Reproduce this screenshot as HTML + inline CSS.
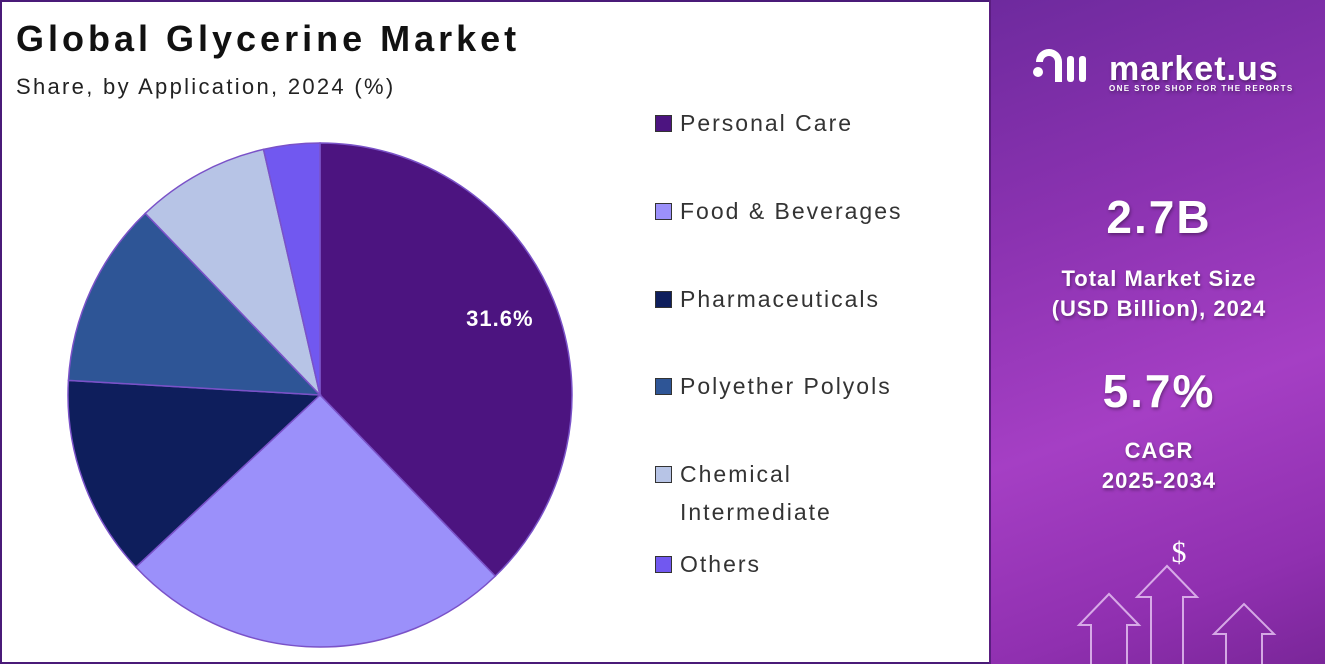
<!DOCTYPE html>
<html><head><meta charset="utf-8"><style>
*{margin:0;padding:0;box-sizing:border-box}
body{width:1325px;height:664px;overflow:hidden;background:#fff;font-family:"Liberation Sans",sans-serif;position:relative}
#frame{position:absolute;left:0;top:0;width:1325px;height:664px;border:2px solid #4a1a78;}
#panel{position:absolute;left:989px;top:0;width:336px;height:664px;background:linear-gradient(160deg,#6e2a9e 0%,#8a32b0 30%,#a53fc4 60%,#9030b0 85%,#7a2699 100%);border-left:2px solid #5a1d80}
.t{position:absolute;color:#fff;font-weight:bold;text-align:center;width:336px;left:0;text-shadow:1px 2px 3px rgba(0,0,0,.35);letter-spacing:1px}
h1{position:absolute;left:16px;top:18px;font-size:36px;font-weight:bold;color:#111;letter-spacing:4px}
#sub{position:absolute;left:16px;top:74px;font-size:22px;color:#222;letter-spacing:2.3px}
.leg{position:absolute;left:655px;font-size:23px;color:#333;line-height:38px;letter-spacing:2px}
.sw{position:absolute;left:0;top:11px;width:17px;height:17px;border:1px solid #333}
.leg span.l{margin-left:25px;display:block}
</style></head><body>
<div id="frame"></div>
<h1>Global Glycerine Market</h1>
<div id="sub">Share, by Application, 2024 (%)</div>
<svg id="pie" width="660" height="664" style="position:absolute;left:0;top:0"></svg>
<div id="legend"></div>
<div id="panel">
  <svg width="336" height="664" style="position:absolute;left:0;top:0">
    <g fill="none" stroke="#e9c9f5" stroke-width="2" opacity=".8">
      <path d="M100 664 V625 H88 L118 594 L148 625 H136 V664"/>
      <path d="M160 664 V597 H146 L176 566 L206 597 H192 V664"/>
      <path d="M235 664 V634 H223 L253 604 L283 634 H271 V664"/>
    </g>
    <text x="188" y="562" fill="#fff" font-size="30" text-anchor="middle" font-family="Liberation Serif">$</text>
    <g fill="#fff"><circle cx="47" cy="72" r="5"/><path d="M45 62 a13 13 0 0 1 26 0 v20 h-7 v-20 a6 6 0 0 0 -12 0z"/><rect x="76" y="56" width="7" height="26" rx="3"/><rect x="88" y="56" width="7" height="26" rx="3"/></g>
  </svg>
  <div class="t" style="top:50px;left:118px;width:210px;text-align:left;font-size:34px">market.us</div>
  <div class="t" style="top:84px;left:118px;width:200px;text-align:left;font-size:8px;letter-spacing:1.4px">ONE STOP SHOP FOR THE REPORTS</div>
  <div class="t" style="top:190px;font-size:46px;letter-spacing:2px">2.7B</div>
  <div class="t" style="top:264px;font-size:22px;line-height:30px">Total Market Size<br>(USD Billion), 2024</div>
  <div class="t" style="top:364px;font-size:46px;letter-spacing:2px">5.7%</div>
  <div class="t" style="top:436px;font-size:22px;line-height:30px">CAGR<br>2025-2034</div>
</div>
<script>
const categories=["Personal Care","Food & Beverages","Pharmaceuticals","Polyether Polyols","Chemical Intermediate","Others"];
const values=[37.8,25.3,12.9,11.9,8.6,3.6];
const colors=["#4c1480","#9b90fa","#0e1e5c","#2e5596","#b7c4e6","#7158f0"];
const shownLabels=["31.6%","","","","",""];
const legendTops=[104,192,280,367,455,545];
const cx=320,cy=395,r=252;
const svg=document.getElementById('pie');const NS="http://www.w3.org/2000/svg";
const total=values.reduce((a,b)=>a+b,0);
let a0=0;
function pt(a,rr){return [cx+rr*Math.sin(a),cy-rr*Math.cos(a)];}
values.forEach((v,i)=>{
  const a1=a0+v/total*2*Math.PI;
  const p0=pt(a0,r),p1=pt(a1,r);
  const p=document.createElementNS(NS,'path');
  p.setAttribute('d',`M${cx},${cy}L${p0[0]},${p0[1]}A${r},${r} 0 ${a1-a0>Math.PI?1:0} 1 ${p1[0]},${p1[1]}Z`);
  p.setAttribute('fill',colors[i]);p.setAttribute('stroke','#7a52c8');p.setAttribute('stroke-width','1.5');
  
  
  svg.appendChild(p);
  if(shownLabels[i]){const m=(a0+a1)/2;const lp=pt(m,r*0.77);
    const t=document.createElementNS(NS,'text');t.setAttribute('x',lp[0]);t.setAttribute('y',lp[1]+4);
    t.setAttribute('fill','#fff');t.setAttribute('font-size','22');t.setAttribute('font-weight','bold');t.setAttribute('text-anchor','middle');
    t.setAttribute('font-family','Liberation Sans');t.setAttribute('letter-spacing','1');t.textContent=shownLabels[i];
    
    
    svg.appendChild(t);}
  a0=a1;
});
const lg=document.getElementById('legend');
categories.forEach((c,i)=>{
  const d=document.createElement('div');d.className='leg';d.style.top=legendTops[i]+'px';
  
  
  const txt=c==="Chemical Intermediate"?"Chemical<br>Intermediate":c.replace('&','&amp;');
  d.innerHTML=`<div class="sw" style="background:${colors[i]}"></div><span class="l">${txt}</span>`;
  lg.appendChild(d);
});
</script>
</body></html>
